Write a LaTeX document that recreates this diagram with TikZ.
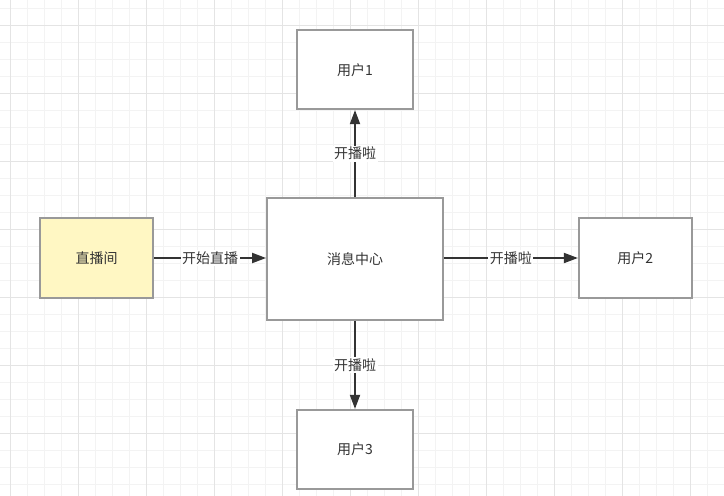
\documentclass[tikz,border=0pt]{standalone}
\usepackage{fontspec}
\newfontfamily\cjk{Noto Sans CJK SC}
\usetikzlibrary{arrows.meta,positioning}
\definecolor{gridminor}{HTML}{F3F3F3}
\definecolor{gridmajor}{HTML}{E4E4E4}
\definecolor{boxline}{HTML}{999999}
\definecolor{roomfill}{HTML}{FFF7C3}
\definecolor{textdark}{HTML}{333333}

\begin{document}
\begin{tikzpicture}[
x=1pt, y=-1pt,
node distance=87pt and 112pt,
box/.style={draw=boxline, line width=1.8pt, fill=white, minimum width=116pt, minimum height=79pt, inner sep=0pt, font=\cjk\fontsize{14}{16}\selectfont, text=textdark},
arrow/.style={-{Triangle[length=14pt, width=10pt]}, line width=1.8pt, draw=textdark},
lbl/.style={fill=white, inner sep=1.5pt, font=\cjk\fontsize{14}{16}\selectfont, text=textdark}
]
\useasboundingbox (0,0) rectangle (724,496);
\fill[white] (0,0) rectangle (724,496);
% background grid
\foreach \i in {0,...,42} {
  \draw[gridminor, line width=0.8pt] ({10.3+17*\i},0) -- ({10.3+17*\i},496);
}
\foreach \i in {0,...,29} {
  \draw[gridminor, line width=0.8pt] (0,{8.3+17*\i}) -- (724,{8.3+17*\i});
}
\foreach \i in {0,...,10} {
  \draw[gridmajor, line width=0.9pt] ({10.3+68*\i},0) -- ({10.3+68*\i},496);
}
\foreach \i in {0,...,7} {
  \draw[gridmajor, line width=0.9pt] (0,{25.3+68*\i}) -- (724,{25.3+68*\i});
}

\node[box, minimum width=176pt, minimum height=122pt] (msg) at (355,259) {消息中心};
\node[box, above=of msg] (user1) {用户1};
\node[box, below=88pt of msg] (user3) {用户3};
\node[box, minimum width=113pt, minimum height=80pt, right=134pt of msg, yshift=1pt] (user2) {用户2};
\node[box, fill=roomfill, minimum width=113pt, minimum height=80pt, left=of msg, yshift=1pt] (room) {直播间};

\draw[arrow] (room.east) -- (room.east -| msg.west) node[lbl, midway] {开始直播};
\draw[arrow] (msg.north) -- (user1.south) node[lbl, midway] {开播啦};
\draw[arrow] (msg.east |- user2.west) -- (user2.west) node[lbl, midway] {开播啦};
\draw[arrow] (msg.south) -- (user3.north) node[lbl, midway] {开播啦};
\end{tikzpicture}
\end{document}
